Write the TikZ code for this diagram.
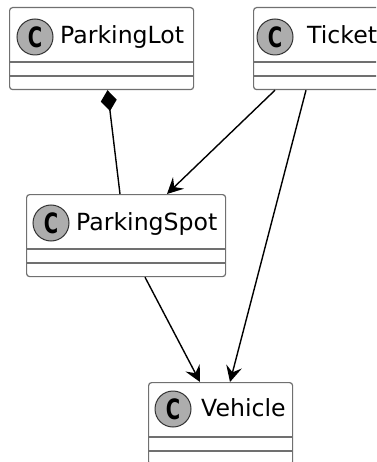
\documentclass[tikz,border=0pt]{standalone}
\usepackage{fontspec}
\newfontfamily\dvsans{DejaVu Sans}
\usetikzlibrary{arrows.meta,shapes.geometric}
\definecolor{boxline}{HTML}{707070}
\definecolor{cfill}{HTML}{ADADAD}
\tikzset{
  classbox/.style={draw=boxline, line width=1.2pt, rounded corners=3pt, fill=white,
    minimum height=82pt, inner sep=0pt, anchor=north west},
  sep/.style={draw=boxline, line width=1.2pt},
  cmark/.style={circle, draw=black!80, line width=1pt, fill=cfill, minimum size=36pt, inner sep=0pt,
    font=\dvsans\bfseries\fontsize{28}{28}\selectfont},
  cname/.style={anchor=base west, inner sep=0pt, font=\dvsans\fontsize{23.6}{28}\selectfont},
  assoc/.style={-{Stealth[length=16pt,width=16pt,inset=6pt]}, line width=1.4pt},
  comp/.style={{Diamond[length=21pt,width=16pt]}-, line width=1.4pt},
}
\begin{document}
\begin{tikzpicture}[x=1pt,y=1pt]
\useasboundingbox (0,0) rectangle (376,-462);
\begin{scope}
\clip (0,0) rectangle (376,-462);
% ParkingLot
\node[classbox, minimum width=184pt] (lot) at (9,-7) {};
\draw[sep] ([yshift=-55pt]lot.north west) -- ([yshift=-55pt]lot.north east);
\draw[sep] ([yshift=-69pt]lot.north west) -- ([yshift=-69pt]lot.north east);
\node[cmark] (lotc) at (35,-37) {\scalebox{0.7}[1]{C}};
\node[cname] (lott) at (60,-44) {ParkingLot};
% Ticket
\node[classbox, minimum width=136pt] (tic) at (253,-7) {};
\draw[sep] ([yshift=-55pt]tic.north west) -- ([yshift=-55pt]tic.north east);
\draw[sep] ([yshift=-69pt]tic.north west) -- ([yshift=-69pt]tic.north east);
\node[cmark] (ticc) at (275,-37) {\scalebox{0.7}[1]{C}};
\node[cname] (tict) at (307,-44) {Ticket};
% ParkingSpot
\node[classbox, minimum width=199pt] (spot) at (26,-194) {};
\draw[sep] ([yshift=-55pt]spot.north west) -- ([yshift=-55pt]spot.north east);
\draw[sep] ([yshift=-69pt]spot.north west) -- ([yshift=-69pt]spot.north east);
\node[cmark] (spotc) at (51,-223) {\scalebox{0.7}[1]{C}};
\node[cname] (spott) at (76,-230) {ParkingSpot};
% Vehicle
\node[classbox, minimum width=144pt] (veh) at (148,-382) {};
\draw[sep] ([yshift=-55pt]veh.north west) -- ([yshift=-55pt]veh.north east);
\draw[sep] ([yshift=-69pt]veh.north west) -- ([yshift=-69pt]veh.north east);
\node[cmark] (vehc) at (173,-409) {\scalebox{0.7}[1]{C}};
\node[cname] (veht) at (201,-416) {Vehicle};
% connectors
\draw[comp] ([xshift=98.5pt]lot.south west) -- ([xshift=94pt]spot.north west);
\draw[assoc] ([xshift=22pt]tic.south west) -- ([xshift=141pt]spot.north west);
\draw[assoc] ([xshift=53pt]tic.south west) -- ([xshift=82pt]veh.north west);
\draw[assoc] ([xshift=119pt]spot.south west) -- ([xshift=52pt]veh.north west);
\end{scope}
\end{tikzpicture}
\end{document}
